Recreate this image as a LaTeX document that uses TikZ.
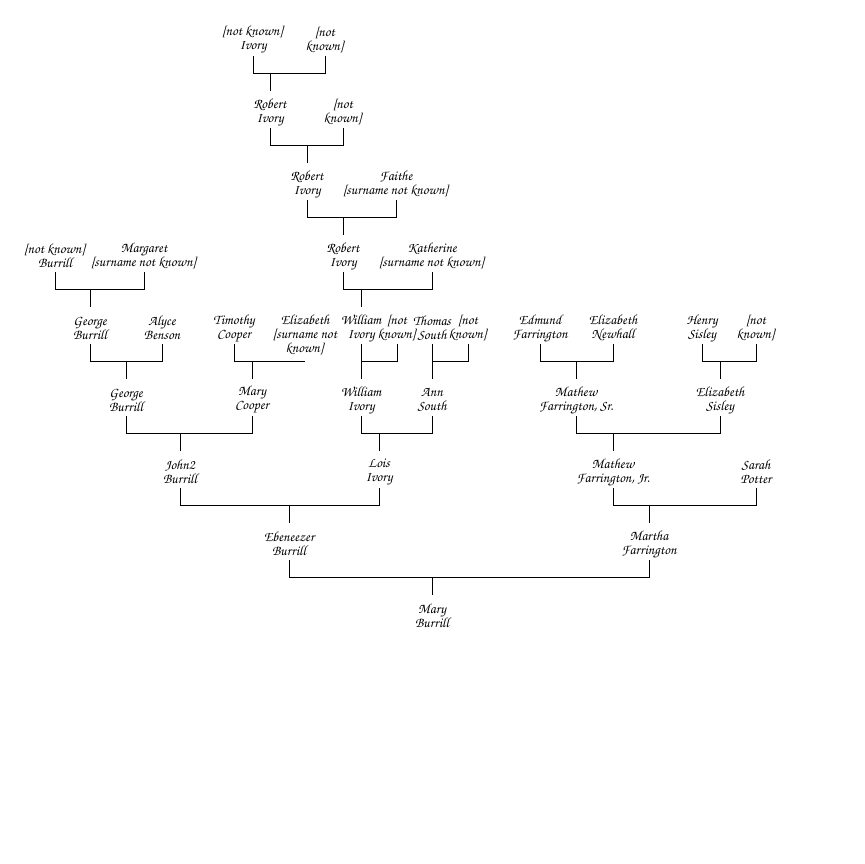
\documentclass[tikz,border=0pt]{standalone}
\usepackage{fontspec}
\setmainfont{texgyrechorus-mediumitalic.otf}
\begin{document}
\begin{tikzpicture}[x=1bp,y=-1bp,
  person/.style={align=center,inner sep=0pt,font=\fontsize{14bp}{14bp}\selectfont},
  line/.style={draw=black,line width=1bp}]
\useasboundingbox (0,0) rectangle (864,864);
\fill[white] (0,0) rectangle (864,864);
% generation 1
\node[person] (a1) at (253,40) {[not known]\\Ivory};
\node[person] (a2) at (325,40) {[not\\known]};
% generation 2
\node[person] (b1) at (270,112) {Robert\\Ivory};
\node[person] (b2) at (343,112) {[not\\known]};
% generation 3
\node[person] (c1) at (307,184) {Robert\\Ivory};
\node[person] (c2) at (396,184) {Faithe\\{}[surname not known]};
% generation 4
\node[person] (d1) at (55,256) {[not known]\\Burrill};
\node[person] (d2) at (144,256) {Margaret\\{}[surname not known]};
\node[person] (d3) at (343,256) {Robert\\Ivory};
\node[person] (d4) at (432,256) {Katherine\\{}[surname not known]};
% generation 5
\node[person] (e1) at (90,328) {George\\Burrill};
\node[person] (e2) at (162,328) {Alyce\\Benson};
\node[person] (e3) at (234,328) {Timothy\\Cooper};
\node[person] (e4) at (305,335) {Elizabeth\\{}[surname not\\known]};
\node[person] (e5) at (361,328) {William\\Ivory};
\node[person] (e6) at (397,328) {[not\\known]};
\node[person] (e7) at (432,328) {Thomas\\South};
\node[person] (e8) at (468,328) {[not\\known]};
\node[person] (e9) at (540,328) {Edmund\\Farrington};
\node[person] (e10) at (613,328) {Elizabeth\\Newhall};
\node[person] (e11) at (702,328) {Henry\\Sisley};
\node[person] (e12) at (756,328) {[not\\known]};
% generation 6
\node[person] (f1) at (126,400) {George\\Burrill};
\node[person] (f2) at (252,400) {Mary\\Cooper};
\node[person] (f3) at (361,400) {William\\Ivory};
\node[person] (f4) at (432,400) {Ann\\South};
\node[person] (f5) at (576,400) {Mathew\\Farrington, Sr.};
\node[person] (f6) at (720,400) {Elizabeth\\Sisley};
% generation 7
\node[person] (g1) at (180,472) {John2\\Burrill};
\node[person] (g2) at (379,472) {Lois\\Ivory};
\node[person] (g3) at (613,472) {Mathew\\Farrington, Jr.};
\node[person] (g4) at (756,472) {Sarah\\Potter};
% generation 8
\node[person] (h1) at (289,544) {Ebeneezer\\Burrill};
\node[person] (h2) at (649,544) {Martha\\Farrington};
% generation 9
\node[person] (i1) at (432,616) {Mary\\Burrill};
% connectors
\foreach \p/\q/\c in {a1/a2/b1,b1/b2/c1,c1/c2/d3,d3/d4/e5,d1/d2/e1,e1/e2/f1,
  e5/e6/f3,e7/e8/f4,e9/e10/f5,e11/e12/f6,f1/f2/g1,f3/f4/g2,f5/f6/g3,
  g1/g2/h1,g3/g4/h2,h1/h2/i1}{
  \draw[line] ([yshift=-16bp]\p.center) -- ([yshift=-33bp]\p.center) coordinate (m)
     -| ([yshift=-16bp]\q.center);
  \draw[line] (m -| \c) -- ([yshift=21bp]\c.center);
}
\draw[line] ([yshift=-16bp]e3.center) |- ([yshift=-26bp]e4.center) coordinate (m);
\draw[line] (m -| f2) -- ([yshift=21bp]f2.center);
\end{tikzpicture}
\end{document}
